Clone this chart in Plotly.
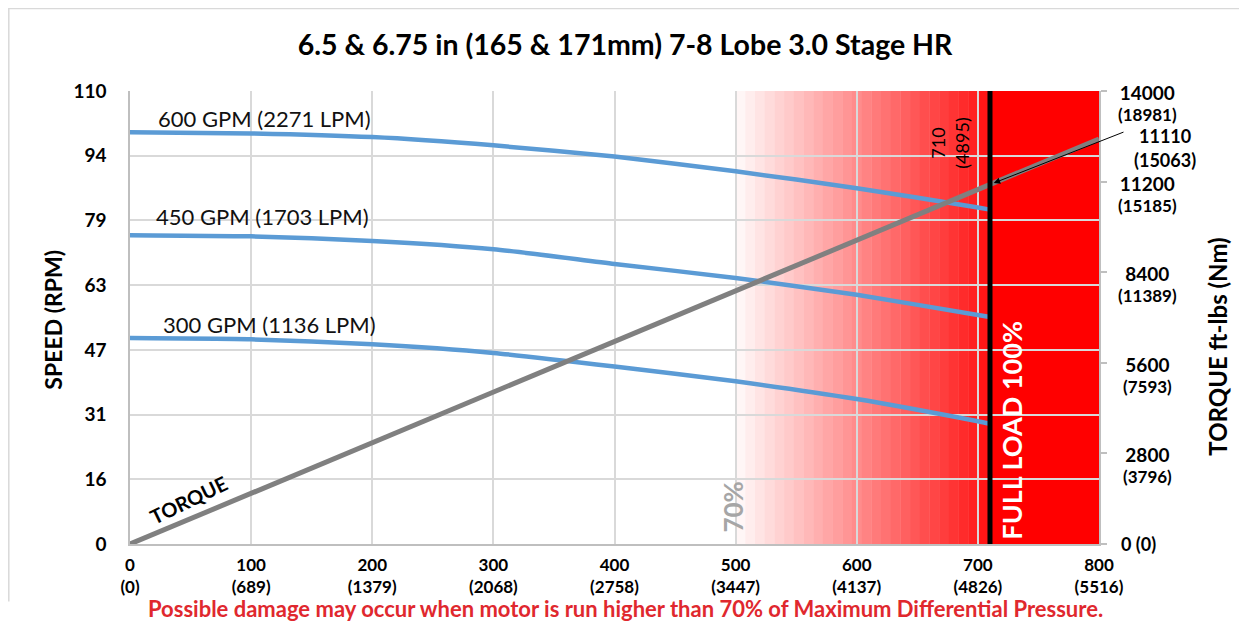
import plotly.graph_objects as go

# ---------------- data ----------------
pressure_psi = [0, 100, 200, 300, 400, 500, 600, 700, 710]
speed_600 = [100, 99.7, 98.8, 96.8, 94.1, 90.5, 86.4, 81.7, 81.2]
speed_450 = [75, 74.7, 73.6, 71.6, 68.0, 64.6, 60.5, 55.6, 55.1]
speed_300 = [50, 49.7, 48.5, 46.4, 43.1, 39.5, 35.2, 29.8, 29.2]
series_labels = ["600 GPM (2271 LPM)", "450 GPM (1703 LPM)", "300 GPM (1136 LPM)"]

torque_x = [0, 710, 800]
torque_ftlbs = [0, 11110, 12518]

x_ticks = [0, 100, 200, 300, 400, 500, 600, 700, 800]
x_ticks_kpa = [0, 689, 1379, 2068, 2758, 3447, 4137, 4826, 5516]
speed_tick_labels = ["0", "16", "31", "47", "63", "79", "94", "110"]
speed_max = 110
torque_ticks = [14000, 11200, 8400, 5600, 2800]
torque_ticks_nm = [18981, 15185, 11389, 7593, 3796]
torque_max = 14000

full_load_x = 710
full_load_nm = 4895
full_load_torque = 11110
full_load_torque_nm = 15063
warn_start = 500
warn_full = 700
x_max = 800

title = "6.5 & 6.75 in (165 & 171mm) 7-8 Lobe 3.0 Stage HR"
footer = "Possible damage may occur when motor is run higher than 70% of Maximum Differential Pressure."

# ---------------- layout geometry (page pixels) ----------------
PAGE_W, PAGE_H = 1247, 625
OFF = 8                      # default body margin of the html page
W, H = PAGE_W - OFF, PAGE_H - OFF
L, R, T, B = 130, 1099, 91.3, 544.4   # plot area in page pixels
FONT = "Lato"

def pxp(px):
    return (px - L) / (R - L)

def pyp(py):
    return (B - py) / (B - T)

fig = go.Figure()

# gradient warning zone
n_bands = 25
shapes = []
step = (warn_full - warn_start) / n_bands
for i in range(n_bands):
    t = (i + 0.5) / n_bands
    g = int(round(250 - (250 - 30) * t))
    shapes.append(dict(type="rect", xref="x", yref="y", x0=warn_start + i * step,
                       x1=warn_start + (i + 1) * step + 0.3, y0=0, y1=speed_max,
                       fillcolor=f"rgb(255,{g},{g})", line_width=0, layer="below"))
shapes.append(dict(type="rect", xref="x", yref="y", x0=warn_full, x1=full_load_x,
                   y0=0, y1=speed_max, fillcolor="rgb(255,22,22)", line_width=0, layer="below"))
shapes.append(dict(type="rect", xref="x", yref="y", x0=full_load_x, x1=x_max,
                   y0=0, y1=speed_max, fillcolor="rgb(255,0,0)", line_width=0, layer="below"))
# full-load line
shapes.append(dict(type="line", xref="x", yref="y", x0=full_load_x, x1=full_load_x,
                   y0=0, y1=speed_max, line=dict(color="black", width=5), layer="above"))
# chart border (top, left, right)
shapes.append(dict(type="path", xref="paper", yref="paper",
                   path=f"M {pxp(8.8)} {pyp(602)} L {pxp(8.8)} {pyp(8.8)} L {pxp(1242)} {pyp(8.8)} L {pxp(1242)} {pyp(602)}",
                   line=dict(color="#d9d9d9", width=1.5), layer="above"))

# speed curves
for ys in (speed_600, speed_450, speed_300):
    fig.add_trace(go.Scatter(x=pressure_psi, y=ys, mode="lines",
                             line=dict(color="#5b9bd5", width=4.5, shape="spline", smoothing=0.6),
                             hoverinfo="skip", showlegend=False))

# torque line (secondary axis)
fig.add_trace(go.Scatter(x=torque_x, y=torque_ftlbs, yaxis="y2", mode="lines",
                         line=dict(color="#808080", width=5), showlegend=False, hoverinfo="skip"))

annotations = []

def note(px, py, text, size, color="black", bold=True, angle=0):
    annotations.append(dict(x=pxp(px), y=pyp(py), xref="paper", yref="paper", text=text,
                            xanchor="center", yanchor="middle", textangle=angle, showarrow=False,
                            font=dict(family=FONT, size=size, color=color,
                                      weight="bold" if bold else "normal")))

# series labels
label_pos = [(264, 119), (262, 217), (269, 325)]
for txt, (lx, ly) in zip(series_labels, label_pos):
    note(lx, ly, txt, 22, color="#111", bold=False)

# right axis tick labels (two lines, first line level with the tick)
for ft, nm in zip(torque_ticks, torque_ticks_nm):
    annotations.append(dict(x=1, xref="paper", xshift=48, xanchor="center", y=ft, yref="y2",
                            yanchor="top", yshift=12,
                            text=f"<span style='font-size:19px'>{ft}</span><br><span style='font-size:17px'>({nm})</span>",
                            showarrow=False,
                            font=dict(family=FONT, size=16, color="black", weight="bold")))
annotations.append(dict(x=1, xref="paper", xshift=39, xanchor="center", y=0, yref="y2", yanchor="middle",
                        text="0 (0)", showarrow=False,
                        font=dict(family=FONT, size=18, color="black", weight="bold")))

# axis titles
note(53, 320, "SPEED (RPM)", 23, angle=-90)
note(1218, 347, "TORQUE ft-lbs (Nm)", 24, angle=-90)

# arrow to full-load torque
annotations.append(dict(x=full_load_x, y=full_load_torque, xref="x", yref="y2", ax=135, ay=-53,
                        axref="pixel", ayref="pixel", showarrow=True, arrowhead=2, arrowsize=1.3,
                        arrowwidth=1, arrowcolor="black", standoff=4, text=""))
note(1165, 136.7, f"{full_load_torque}", 18)
note(1165, 160, f"({full_load_torque_nm})", 18)

# 710 label
note(950, 144, f"{full_load_x}<br>({full_load_nm})", 18, bold=False, angle=-90)
# FULL LOAD 100%
note(1012, 431, "FULL LOAD 100%", 27, color="white", angle=-90)
# 70%
note(733, 508, "70%", 26, color="#a6a6a6", angle=-90)
# TORQUE label
note(188, 500, "TORQUE", 20, angle=-26)
# footer
note(625, 609, footer, 22, color="#e0282e")

fig.update_layout(
    width=W, height=H,
    margin=dict(l=L - OFF, r=W - (R - OFF), t=T - OFF, b=H - (B - OFF), pad=0),
    paper_bgcolor="white", plot_bgcolor="white",
    title=dict(text=title, x=(625 - OFF) / W, xanchor="center", y=1 - (45 - OFF) / H, yanchor="middle",
               font=dict(family=FONT, size=28.5, color="black", weight="bold")),
    xaxis=dict(range=[0, x_max], tickvals=x_ticks,
               ticktext=[f"{a}<br>({b})" for a, b in zip(x_ticks, x_ticks_kpa)],
               showgrid=True, gridcolor="#d9d9d9", gridwidth=1.5, zeroline=False,
               showline=True, linecolor="#bfbfbf", linewidth=1.5, ticks="",
               tickfont=dict(family=FONT, size=17, color="black", weight="bold"), ticklabelstandoff=5),
    yaxis=dict(range=[0, speed_max], tickvals=[speed_max * k / 7 for k in range(8)], ticktext=speed_tick_labels,
               showgrid=True, gridcolor="#d9d9d9", gridwidth=1.5, zeroline=False,
               showline=True, linecolor="#bfbfbf", linewidth=1.5, ticks="",
               tickfont=dict(family=FONT, size=19, color="black", weight="bold"), ticklabelstandoff=18),
    yaxis2=dict(range=[0, torque_max], overlaying="y", side="right", tickvals=[0] + torque_ticks[::-1],
                showticklabels=False, showgrid=False, zeroline=False, showline=True,
                linecolor="#bfbfbf", linewidth=1.5, ticks="outside", ticklen=6, tickcolor="#bfbfbf", tickwidth=1.5),
    shapes=shapes, annotations=annotations, showlegend=False,
)

fig.write_html("out.html")
